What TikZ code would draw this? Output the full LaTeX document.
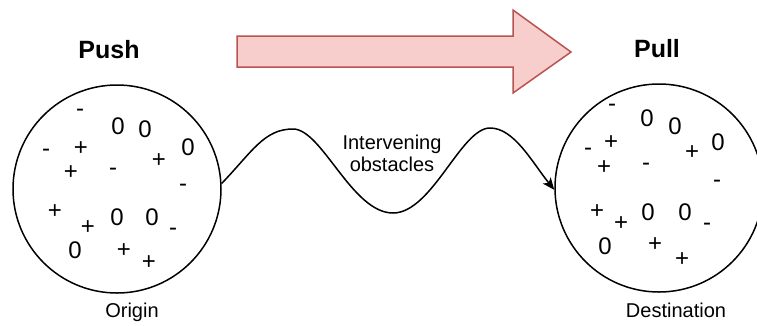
\documentclass[tikz,border=0pt]{standalone}
\usepackage{fontspec}
\setmainfont{Liberation Sans}
\usepackage{xcolor}
\definecolor{mylightred}{RGB}{248,206,204}
\definecolor{mydarkred}{RGB}{184,84,80}
\usepackage{tikz}
\usetikzlibrary{arrows.meta}
\newcommand{\sizeball}{208pt}
\newcommand{\widthline}{1.5pt}
\tikzset{
    ball/.style={draw, circle, line width=\widthline, minimum size=\sizeball, inner sep=0pt},
    charge/.style={inner sep=0pt, font=\fontsize{24}{24}\selectfont},
    title/.style={anchor=base, inner sep=0pt, font=\fontsize{25}{25}\selectfont\bfseries},
    caption/.style={anchor=base, inner sep=0pt, font=\fontsize{20}{22}\selectfont},
    wave/.style={line width=\widthline, -{Stealth[length=12pt, width=10pt, inset=3pt]}},
    bigarrow/.style={draw=mydarkred, fill=mylightred, line width=\widthline, line join=miter}
}
\begin{document}
\begin{tikzpicture}[x=1pt, y=-1pt]
        \useasboundingbox (0,0) rectangle (757,325);

        \node[ball] (origin) at (117,189) {};
        \node[ball] (destination) at (659,188) {};
        \node[title] (push) at (109,58) {Push};
        \node[title] (pull) at (657,57) {Pull};
        \node[caption] (origin-label) at (132,317) {Origin};
        \node[caption] (destination-label) at (676,317) {Destination};

        \foreach \x/\y/\c [count=\i] in {80/113/-, 118/126/0, 145/129/0, 188/147/0, 46/153/-, 81/149/+,
                159/161/+, 71/173/+, 113/172/-, 183/188/-, 55/212/+, 117/217/0,
                152/217/0, 88/228/+, 173/232/-, 75/250/0, 124/251/+, 149/263/+}
            \node[charge] (o\i) at (\x,\y) {\c};
        \foreach \x/\y/\c [count=\i] in {612/108/-, 647/118/0, 675/126/0, 718/142/0, 588/152/-, 611/143/+,
                692/153/+, 604/168/+, 646/167/-, 717/184/-, 597/212/+, 648/212/0,
                685/212/0, 621/224/+, 707/227/-, 605/246/0, 655/245/+, 682/260/+}
            \node[charge] (d\i) at (\x,\y) {\c};

        \draw[bigarrow] (237,36) -- (513,36) -- (513,10) -- (571,52) -- (513,93) -- (513,67) -- (237,67) -- cycle;

        \coordinate (peak-left) at (293,129);
        \coordinate (trough) at (393,213);
        \coordinate (peak-right) at (490,128);
        \draw[wave] (origin.3) .. controls (252,152) and (264,129) .. (peak-left)
            .. controls (322,129) and (352,213) .. (trough)
            .. controls (432,213) and (461,128) .. (peak-right)
            .. controls (514,128) and (532,162) .. (destination.181);
        \node[caption, anchor=center, align=center] (obstacles) at (392,153) {Intervening\\obstacles};
    \end{tikzpicture}
\end{document}
